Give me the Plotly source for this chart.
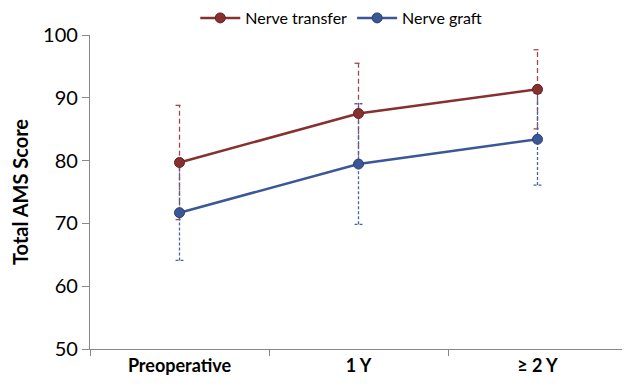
import plotly.graph_objects as go

categories = ["Preoperative", "1 Y", "\u2265 2 Y"]
transfer_mean = [79.7, 87.5, 91.35]
transfer_err = [9.1, 8.0, 6.3]
graft_mean = [71.7, 79.45, 83.4]
graft_err = [7.6, 9.6, 7.3]

red = "#873030"
blue = "#3B5797"
FONT = "Lato"
xpos = list(range(len(categories)))
cap = 0.022


def err_paths(means, errs):
    xs, ys = [], []
    for x, m, e in zip(xpos, means, errs):
        lo, hi = m - e, m + e
        xs += [x, x, None, x - cap, x + cap, None, x - cap, x + cap, None]
        ys += [lo, hi, None, lo, lo, None, hi, hi, None]
    return xs, ys


fig = go.Figure()
for means, errs, col, dash in [(transfer_mean, transfer_err, "#A04A48", "5px,3px"),
                               (graft_mean, graft_err, "#4A64A2", "3px,2px")]:
    ex, ey = err_paths(means, errs)
    fig.add_trace(go.Scatter(x=ex, y=ey, mode="lines", showlegend=False,
                             hoverinfo="skip",
                             line=dict(color=col, width=1.3, dash=dash)))

fig.add_trace(go.Scatter(x=xpos, y=transfer_mean, name="Nerve transfer",
                         mode="lines+markers",
                         line=dict(color=red, width=2.5),
                         marker=dict(color=red, size=10,
                                     line=dict(color="#642022", width=1))))
fig.add_trace(go.Scatter(x=xpos, y=graft_mean, name="Nerve graft",
                         mode="lines+markers",
                         line=dict(color=blue, width=2.5),
                         marker=dict(color=blue, size=10,
                                     line=dict(color="#2A3F72", width=1))))

fig.update_layout(
    width=630, height=385,
    margin=dict(l=82, r=11, t=27, b=44, autoexpand=False),
    plot_bgcolor="white", paper_bgcolor="white",
    font=dict(family=FONT, color="black"),
    legend=dict(orientation="h", x=0.529, xref="container", xanchor="center",
                y=0.974, yref="container", yanchor="middle",
                font=dict(size=16, family=FONT), itemwidth=40),
    xaxis=dict(range=[-0.5, 2.5], tickvals=xpos, ticktext=categories,
               ticks="", showgrid=False, zeroline=False, automargin=False,
               showline=True, linecolor="#888888", linewidth=1.3,
               tickfont=dict(size=18, family=FONT, weight="bold"),
               minor=dict(tick0=0.5, dtick=1, ticks="outside", ticklen=6,
                          tickcolor="#888888", tickwidth=1.3, showgrid=False)),
    yaxis=dict(range=[50, 100], tickvals=[50, 60, 70, 80, 90, 100],
               ticks="outside", ticklen=7, tickcolor="#888888", tickwidth=1.3,
               showgrid=False, zeroline=False, automargin=False,
               showline=True, linecolor="#888888", linewidth=1.3,
               tickfont=dict(size=20, family=FONT),
               title=dict(text="Total AMS Score", standoff=10,
                          font=dict(size=20, family=FONT, weight="bold"))),
)

fig.write_html("out.html")
